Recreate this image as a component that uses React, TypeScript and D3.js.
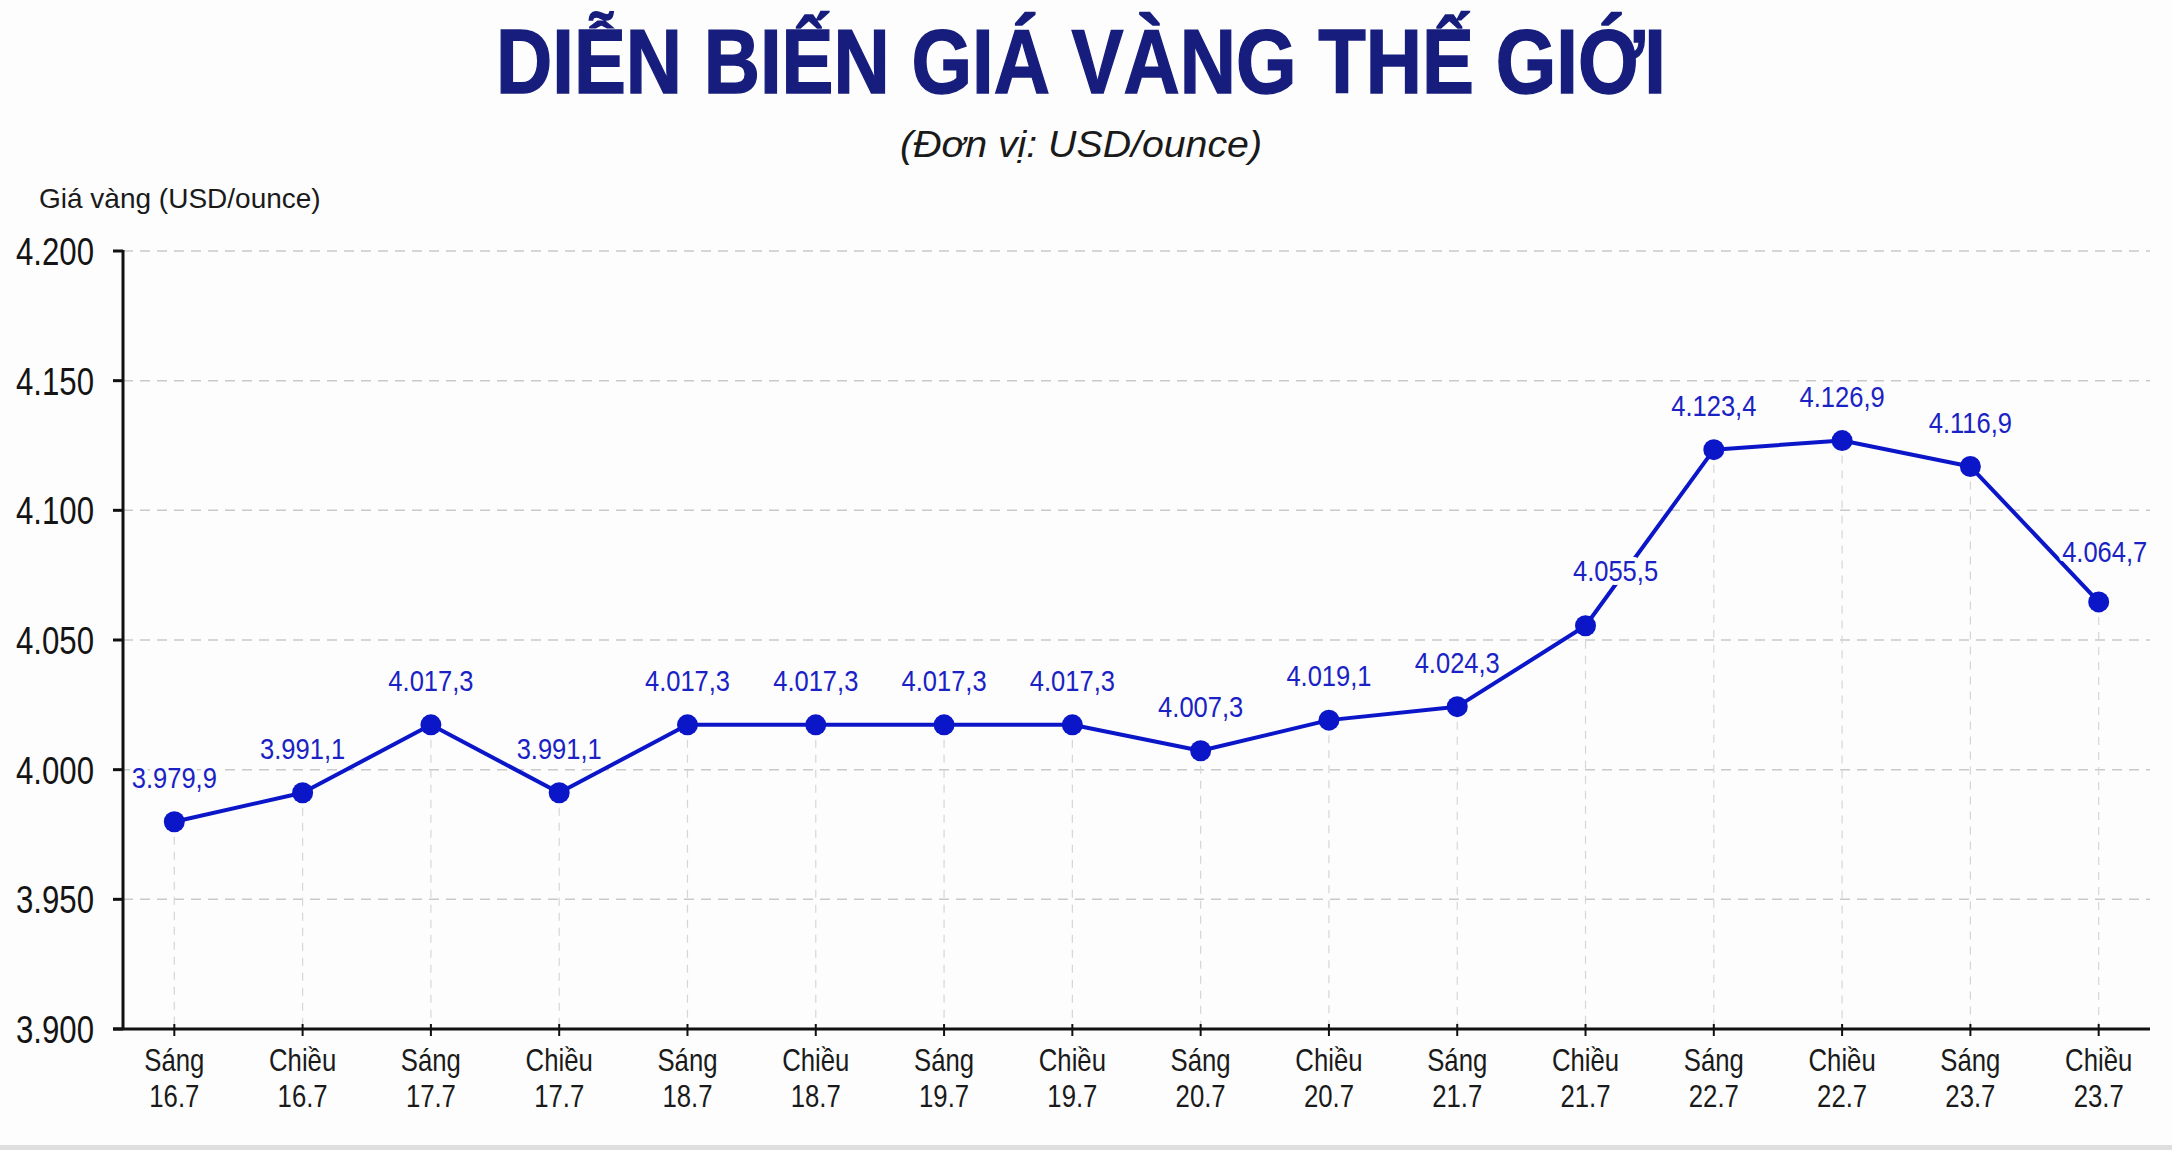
import { useRef, useEffect } from "react";
import * as d3 from "d3";

// sessions and dates along the x axis
const sessions = [
  "Sáng", "Chiều", "Sáng", "Chiều", "Sáng", "Chiều", "Sáng", "Chiều",
  "Sáng", "Chiều", "Sáng", "Chiều", "Sáng", "Chiều", "Sáng", "Chiều",
];
const dates = [
  "16.7", "16.7", "17.7", "17.7", "18.7", "18.7", "19.7", "19.7",
  "20.7", "20.7", "21.7", "21.7", "22.7", "22.7", "23.7", "23.7",
];
// gold price, USD/ounce
const prices = [
  3979.9, 3991.1, 4017.3, 3991.1, 4017.3, 4017.3, 4017.3, 4017.3,
  4007.3, 4019.1, 4024.3, 4055.5, 4123.4, 4126.9, 4116.9, 4064.7,
];
const yTicks = [3900, 3950, 4000, 4050, 4100, 4150, 4200];

const W = 2172;
const H = 1150;
const BLUE = "#0b16c9";
const SANS = "'Liberation Sans', Arial, sans-serif";

export default function App() {
  const svgRef = useRef<SVGSVGElement>(null);

  useEffect(() => {
    const svg = d3.select(svgRef.current);
    svg.selectAll("*").remove();

    const vn = d3.formatLocale({
      decimal: ",",
      thousands: ".",
      grouping: [3],
      currency: ["", ""],
    });
    const fmtTick = vn.format(",.0f");
    const fmtVal = vn.format(",.1f");

    const left = 123;
    const right = 2150;
    const top = 251;
    const bottom = 1029;

    const x = d3
      .scalePoint<number>()
      .domain(d3.range(prices.length))
      .range([left, right])
      .padding(0.4);
    const y = d3.scaleLinear().domain([3900, 4200]).range([bottom, top]);

    // squeeze text horizontally (condensed look)
    const squeeze = (px: number, py: number, sx: number) =>
      `translate(${px},${py}) scale(${sx},1)`;

    svg.append("rect").attr("width", W).attr("height", H).attr("fill", "#fdfdfd");
    svg
      .append("rect")
      .attr("y", H - 5)
      .attr("width", W)
      .attr("height", 5)
      .attr("fill", "#dedede");

    // title + unit
    svg
      .append("text")
      .attr("x", 1081)
      .attr("y", 93)
      .attr("text-anchor", "middle")
      .attr("font-family", SANS)
      .attr("font-weight", "bold")
      .attr("font-size", 91)
      .attr("textLength", 1170)
      .attr("lengthAdjust", "spacingAndGlyphs")
      .attr("fill", "#161d7c")
      .attr("stroke", "#161d7c")
      .attr("stroke-width", 1.5)
      .text("DIỄN BIẾN GIÁ VÀNG THẾ GIỚI");

    svg
      .append("text")
      .attr("x", 1081)
      .attr("y", 157)
      .attr("text-anchor", "middle")
      .attr("font-family", SANS)
      .attr("font-style", "italic")
      .attr("font-size", 36)
      .attr("textLength", 362)
      .attr("lengthAdjust", "spacingAndGlyphs")
      .attr("fill", "#1a1a1a")
      .text("(Đơn vị: USD/ounce)");

    svg
      .append("text")
      .attr("x", 39)
      .attr("y", 208)
      .attr("font-family", SANS)
      .attr("font-size", 28)
      .attr("fill", "#1a1a1a")
      .text("Giá vàng (USD/ounce)");

    // horizontal grid
    svg
      .append("g")
      .selectAll("line")
      .data(yTicks.filter((t) => t > 3900))
      .join("line")
      .attr("x1", left)
      .attr("x2", right)
      .attr("y1", (d) => y(d))
      .attr("y2", (d) => y(d))
      .attr("stroke", "#c9c9c9")
      .attr("stroke-width", 1.5)
      .attr("stroke-dasharray", "10 7");

    // drop lines from each point to the axis
    svg
      .append("g")
      .selectAll("line")
      .data(prices)
      .join("line")
      .attr("x1", (_, i) => x(i)!)
      .attr("x2", (_, i) => x(i)!)
      .attr("y1", (d) => y(d))
      .attr("y2", bottom)
      .attr("stroke", "#d6d6d6")
      .attr("stroke-width", 1.2)
      .attr("stroke-dasharray", "8 7");

    // y axis
    const ya = svg.append("g");
    ya.append("line")
      .attr("x1", left)
      .attr("x2", left)
      .attr("y1", top - 1)
      .attr("y2", bottom)
      .attr("stroke", "#111")
      .attr("stroke-width", 3);
    ya.selectAll(".tick")
      .data(yTicks)
      .join("line")
      .attr("x1", left - 10)
      .attr("x2", left)
      .attr("y1", (d) => y(d))
      .attr("y2", (d) => y(d))
      .attr("stroke", "#111")
      .attr("stroke-width", 3);
    ya.selectAll("text")
      .data(yTicks)
      .join("text")
      .attr("transform", (d) => squeeze(94, y(d), 0.8))
      .attr("dy", "0.36em")
      .attr("text-anchor", "end")
      .attr("font-family", SANS)
      .attr("font-size", 39)
      .attr("fill", "#141414")
      .text((d) => fmtTick(d));

    // x axis
    const xa = svg.append("g");
    xa.append("line")
      .attr("x1", left - 10)
      .attr("x2", right)
      .attr("y1", bottom)
      .attr("y2", bottom)
      .attr("stroke", "#111")
      .attr("stroke-width", 3);
    xa.selectAll(".tick")
      .data(prices)
      .join("line")
      .attr("x1", (_, i) => x(i)!)
      .attr("x2", (_, i) => x(i)!)
      .attr("y1", bottom - 5)
      .attr("y2", bottom + 7)
      .attr("stroke", "#111")
      .attr("stroke-width", 2);
    const xl = xa
      .selectAll("text")
      .data(prices)
      .join("text")
      .attr("transform", (_, i) => squeeze(x(i)!, 1071, 0.83))
      .attr("text-anchor", "middle")
      .attr("font-family", SANS)
      .attr("font-size", 31)
      .attr("fill", "#1a1a1a");
    xl.append("tspan")
      .attr("x", 0)
      .attr("y", 0)
      .text((_, i) => sessions[i]);
    xl.append("tspan")
      .attr("x", 0)
      .attr("y", 36)
      .text((_, i) => dates[i]);

    // price line
    const line = d3
      .line<number>()
      .x((_, i) => x(i)!)
      .y((d) => y(d));
    svg
      .append("path")
      .datum(prices)
      .attr("d", line)
      .attr("fill", "none")
      .attr("stroke", BLUE)
      .attr("stroke-width", 4)
      .attr("stroke-linejoin", "round");

    svg
      .append("g")
      .selectAll("circle")
      .data(prices)
      .join("circle")
      .attr("cx", (_, i) => x(i)!)
      .attr("cy", (d) => y(d))
      .attr("r", 10.5)
      .attr("fill", BLUE);

    // value labels, a couple nudged off the line
    const nudge: Record<number, [number, number]> = {
      11: [30, -45],
      15: [6, -40],
    };
    svg
      .append("g")
      .selectAll("text")
      .data(prices)
      .join("text")
      .attr("transform", (d, i) =>
        squeeze(
          x(i)! + (nudge[i] ? nudge[i][0] : 0),
          y(d) + (nudge[i] ? nudge[i][1] : -34),
          0.88
        )
      )
      .attr("text-anchor", "middle")
      .attr("font-family", SANS)
      .attr("font-size", 29)
      .attr("fill", "#1a22c4")
      .attr("stroke", "#fdfdfd")
      .attr("stroke-width", 8)
      .attr("stroke-linejoin", "round")
      .attr("paint-order", "stroke")
      .text((d) => fmtVal(d));
  }, []);

  return (
    <svg
      ref={svgRef}
      width={W}
      height={H}
      style={{ position: "absolute", left: 0, top: 0, display: "block" }}
    />
  );
}
